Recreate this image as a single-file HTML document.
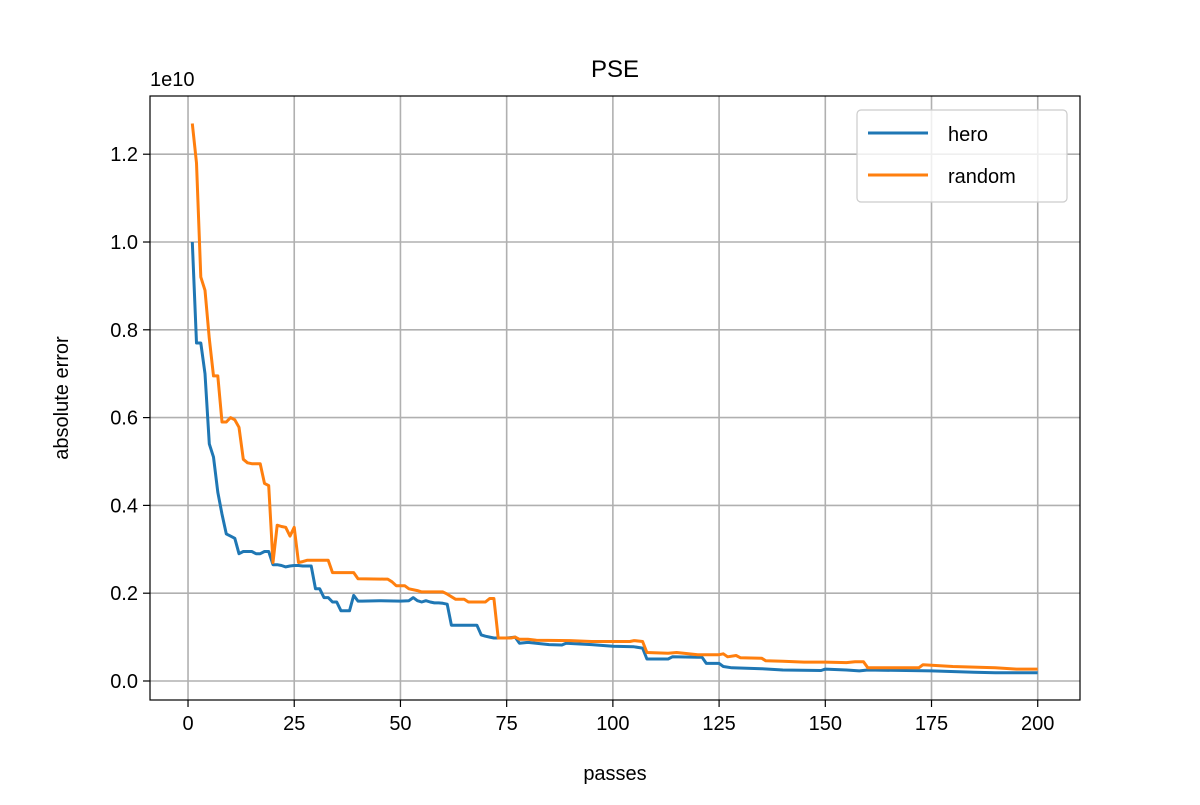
<!DOCTYPE html>
<html><head><meta charset="utf-8"><style>
body{margin:0;background:#fff;}
svg text{font-family:"Liberation Sans","DejaVu Sans",sans-serif;fill:#000;}
</style></head><body>
<svg id="chart" width="1200" height="800" xmlns="http://www.w3.org/2000/svg">
<rect width="1200" height="800" fill="#fff"/>
<g id="grid"></g>
<g id="series"></g>
<rect x="150" y="96" width="930" height="604" fill="none" stroke="#000" stroke-width="1.2"/>
<g id="ticks"></g>
<text x="615" y="77" font-size="24" text-anchor="middle">PSE</text>
<text x="615" y="780" font-size="20" text-anchor="middle">passes</text>
<text x="68" y="398" font-size="20" text-anchor="middle" transform="rotate(-90 68 398)">absolute error</text>
<text x="150" y="86" font-size="20">1e10</text>
<g>
<rect x="857" y="110" width="210" height="92" rx="4" fill="#fff" fill-opacity="0.8" stroke="#ccc" stroke-width="1.2"/>
<line x1="868" y1="133" x2="928" y2="133" stroke="#1f77b4" stroke-width="3"/>
<text x="948" y="141" font-size="20">hero</text>
<line x1="868" y1="175" x2="928" y2="175" stroke="#ff7f0e" stroke-width="3"/>
<text x="948" y="183" font-size="20">random</text>
</g>
</svg>
<script>
const xTicks=[0,25,50,75,100,125,150,175,200];
const yTicks=[0,0.2,0.4,0.6,0.8,1.0,1.2];
const yTickLabels=["0.0","0.2","0.4","0.6","0.8","1.0","1.2"];
const heroPasses=[1,2,3,4,5,6,7,8,9,10,11,12,13,14,15,16,17,18,19,20,21,22,23,24,25,26,27,28,29,30,31,32,33,34,35,36,37,38,39,40,41,45,50,52,53,54,55,56,57,58,59,60,61,62,68,69,70,71,72,75,77,78,80,85,88,89,95,100,105,107,108,113,114,120,121,122,125,126,128,135,140,149,150,155,158,160,175,185,190,200];
const heroValues=[1.00,0.77,0.77,0.70,0.54,0.51,0.43,0.38,0.335,0.33,0.325,0.29,0.295,0.295,0.295,0.29,0.29,0.295,0.295,0.265,0.265,0.263,0.26,0.262,0.263,0.263,0.262,0.262,0.262,0.21,0.21,0.19,0.19,0.18,0.18,0.16,0.16,0.16,0.195,0.182,0.182,0.183,0.182,0.183,0.19,0.183,0.18,0.183,0.18,0.178,0.178,0.177,0.175,0.127,0.127,0.105,0.102,0.10,0.098,0.098,0.10,0.086,0.088,0.083,0.082,0.086,0.083,0.079,0.078,0.075,0.05,0.05,0.055,0.054,0.054,0.04,0.04,0.033,0.03,0.028,0.025,0.024,0.027,0.025,0.023,0.025,0.023,0.02,0.019,0.019];
const randomPasses=[1,2,3,4,5,6,7,8,9,10,11,12,13,14,15,17,18,19,20,21,22,23,24,25,26,27,28,32,33,34,38,39,40,46,47,48,49,51,52,54,55,60,61,63,65,66,70,71,72,73,76,77,78,80,82,90,95,100,104,105,107,108,113,115,120,125,126,127,129,130,135,136,140,145,150,155,157,159,160,165,172,173,180,190,195,200];
const randomValues=[1.27,1.18,0.92,0.89,0.78,0.695,0.695,0.59,0.59,0.60,0.595,0.578,0.505,0.497,0.495,0.495,0.45,0.445,0.27,0.355,0.352,0.35,0.33,0.35,0.27,0.272,0.275,0.275,0.275,0.247,0.247,0.247,0.233,0.232,0.232,0.226,0.217,0.217,0.21,0.206,0.203,0.203,0.198,0.186,0.186,0.18,0.18,0.188,0.188,0.098,0.098,0.10,0.095,0.095,0.093,0.092,0.09,0.09,0.09,0.092,0.09,0.065,0.063,0.065,0.06,0.06,0.062,0.055,0.058,0.053,0.052,0.046,0.045,0.043,0.043,0.042,0.044,0.044,0.03,0.03,0.03,0.037,0.033,0.03,0.027,0.027];
const X0=150,X1=1080,Y0=96,Y1=700,xmin=-8.95,xmax=209.95,ymin=-0.0433,ymax=1.3326;
function xs(v){return X0+(v-xmin)/(xmax-xmin)*(X1-X0);}
function ys(v){return Y1-(v-ymin)/(ymax-ymin)*(Y1-Y0);}
const NS="http://www.w3.org/2000/svg";
const grid=document.getElementById('grid'),ticks=document.getElementById('ticks'),ser=document.getElementById('series');
function mk(tag,attrs,parent){const e=document.createElementNS(NS,tag);for(const k in attrs)e.setAttribute(k,attrs[k]);parent.appendChild(e);return e;}
xTicks.forEach(t=>{const x=xs(t);
const g=mk('line',{x1:x,x2:x,y1:Y0,y2:Y1,stroke:'#b0b0b0','stroke-width':1.6},grid);


const tk=mk('line',{x1:x,x2:x,y1:Y1,y2:Y1+7,stroke:'#000','stroke-width':1.2},ticks);


const tx=mk('text',{x:x,y:Y1+30,'font-size':20,'text-anchor':'middle'},ticks);tx.textContent=t;


});
yTicks.forEach((t,i)=>{const y=ys(t);
const g=mk('line',{x1:X0,x2:X1,y1:y,y2:y,stroke:'#b0b0b0','stroke-width':1.6},grid);


const tk=mk('line',{x1:X0-7,x2:X0,y1:y,y2:y,stroke:'#000','stroke-width':1.2},ticks);


const tx=mk('text',{x:X0-12,y:y+7,'font-size':20,'text-anchor':'end'},ticks);tx.textContent=yTickLabels[i];


});
function line(px,vals,color,name){const d=px.map((p,i)=>(i?'L':'M')+xs(p).toFixed(1)+' '+ys(vals[i]).toFixed(1)).join(' ');
const p=mk('path',{d:d,fill:'none',stroke:color,'stroke-width':3,'stroke-linejoin':'round'},ser);

}
line(heroPasses,heroValues,'#1f77b4','hero-line');
line(randomPasses,randomValues,'#ff7f0e','random-line');
</script>
</body></html>
